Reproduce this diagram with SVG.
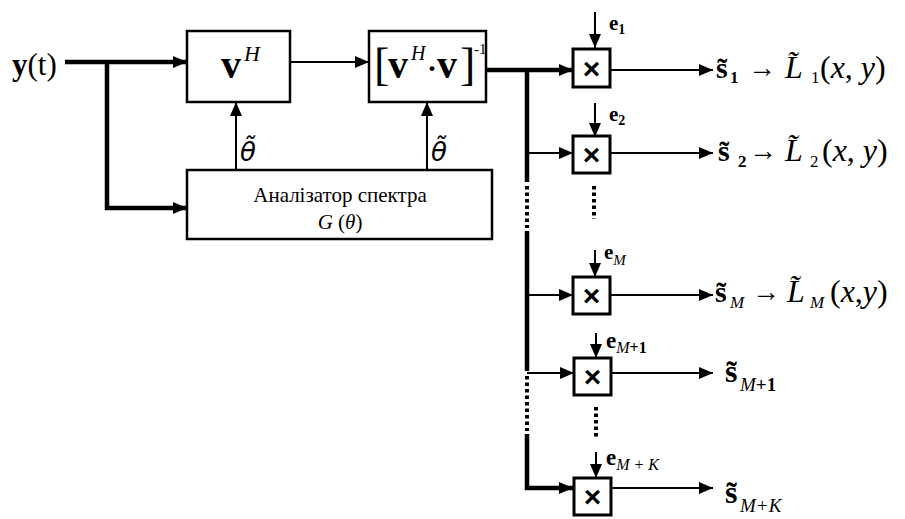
<svg xmlns="http://www.w3.org/2000/svg" width="905" height="519" viewBox="0 0 905 519">
<defs>
<marker id="ah" viewBox="0 0 14 12" refX="14" refY="6" markerWidth="14" markerHeight="12" markerUnits="userSpaceOnUse" orient="auto">
<path d="M0,0 L14,6 L0,12 Z" fill="#000"/>
</marker>
<style>
.box{fill:#fff;stroke:#000;stroke-width:2.5}
.mul{fill:#fff;stroke:#000;stroke-width:3}
.thick{fill:none;stroke:#000;stroke-width:4.5}
.thin{fill:none;stroke:#000;stroke-width:2}
.dots{fill:none;stroke:#000;stroke-width:4;stroke-dasharray:3.5,3}
text{fill:#000}
.x{font-family:'Liberation Sans','DejaVu Sans',sans-serif;font-weight:bold;font-size:30px}
.b{font-weight:bold}
.i{font-style:italic}
.dj{font-family:'DejaVu Sans',sans-serif}
</style>
</defs>
<rect width="905" height="519" fill="#fff"/>

<g id="connectors">
<path class="thick" d="M65,62 H187" marker-end="url(#ah)"/>
<path class="thick" d="M107,62 V208 H187" marker-end="url(#ah)"/>
<path class="thin" d="M290,62 H369" marker-end="url(#ah)"/>
<path class="thin" d="M236,170 V102" marker-end="url(#ah)"/>
<path class="thin" d="M427,170 V102" marker-end="url(#ah)"/>
<path class="thick" d="M486,70 H573" marker-end="url(#ah)"/>
<path class="thick" d="M527,70 V182"/>
<path class="dots" d="M527,186 V228"/>
<path class="thick" d="M527,231 V371"/>
<path class="dots" d="M527,376 V431"/>
<path class="thick" d="M527,434 V488 H573" marker-end="url(#ah)"/>
<path class="thin" d="M527,153 H573" marker-end="url(#ah)"/>
<path class="thin" d="M527,295 H573" marker-end="url(#ah)"/>
<path class="thin" d="M527,373 H574" marker-end="url(#ah)"/>
<path class="thin" d="M595,12 V48" marker-end="url(#ah)"/>
<path class="thin" d="M595,103 V137" marker-end="url(#ah)"/>
<path class="thin" d="M595,250 V277" marker-end="url(#ah)"/>
<path class="thin" d="M596,333 V358" marker-end="url(#ah)"/>
<path class="thin" d="M596,452 V478" marker-end="url(#ah)"/>
<path class="thin" d="M610,70 H713" marker-end="url(#ah)"/>
<path class="thin" d="M610,153 H713" marker-end="url(#ah)"/>
<path class="thin" d="M610,295 H713" marker-end="url(#ah)"/>
<path class="thin" d="M611,373 H713" marker-end="url(#ah)"/>
<path class="thin" d="M611,488 H713" marker-end="url(#ah)"/>
<path class="dots" d="M594,186 V219"/>
<path class="dots" d="M596,407 V438"/>
</g>

<g font-family="'Liberation Serif','DejaVu Serif',serif">

<g id="input">
<text x="12" y="75" font-size="31"><tspan class="b">y</tspan>(t)</text>
</g>

<g id="vh">
<rect class="box" x="187" y="31" width="103" height="71"/>
<text font-size="40"><tspan x="221" y="78" class="b">v</tspan><tspan x="244" y="61" font-size="22" class="i">H</tspan></text>
</g>

<g id="inv">
<rect class="box" x="369" y="31" width="117" height="71"/>
<text font-size="40"><tspan x="374" y="80" font-size="46">[</tspan><tspan x="388" y="78" class="b">v</tspan><tspan x="411" y="60" font-size="20" class="i">H</tspan><tspan x="427" y="78" font-size="30" class="b">·</tspan><tspan x="437" y="78" class="b">v</tspan><tspan x="460" y="80" font-size="46">]</tspan><tspan x="474" y="54" font-size="15">-1</tspan></text>
</g>

<g id="theta1">
<text x="240" y="161" font-size="26" class="i dj">θ̃</text>
</g>
<g id="theta2">
<text x="431" y="161" font-size="26" class="i dj">θ̃</text>
</g>

<g id="analyzer">
<rect class="box" x="187" y="170" width="305" height="69"/>
<text x="340" y="202" font-size="21" text-anchor="middle">Аналізатор спектра</text>
<text x="340" y="229" font-size="21" text-anchor="middle"><tspan class="i">G</tspan> (<tspan class="i">θ</tspan>)</text>
</g>

<g id="mul1">
<rect class="mul" x="573" y="49" width="37" height="38"/>
<text class="x" x="591.5" y="79" text-anchor="middle">×</text>
<text x="609" y="30" font-size="21" class="b">e<tspan font-size="14" dy="4">1</tspan></text>
</g>
<g id="mul2">
<rect class="mul" x="573" y="136" width="37" height="37"/>
<text class="x" x="591.5" y="165" text-anchor="middle">×</text>
<text x="609" y="121" font-size="21" class="b">e<tspan font-size="14" dy="4">2</tspan></text>
</g>
<g id="mulM">
<rect class="mul" x="573" y="277" width="37" height="37"/>
<text class="x" x="591.5" y="306" text-anchor="middle">×</text>
<text x="604" y="259" font-size="21" class="b">e<tspan font-size="15" class="i" font-weight="normal" dy="6">M</tspan></text>
</g>
<g id="mulM1">
<rect class="mul" x="574" y="358" width="37" height="37"/>
<text class="x" x="592.5" y="387" text-anchor="middle">×</text>
<text x="606" y="348" font-size="23" class="b">e<tspan font-size="16" class="i" font-weight="normal" dy="5">M</tspan><tspan font-size="16">+1</tspan></text>
</g>
<g id="mulMK">
<rect class="mul" x="574" y="478" width="37" height="37"/>
<text class="x" x="592.5" y="507" text-anchor="middle">×</text>
<text x="606" y="465" font-size="23" class="b">e<tspan font-size="16" class="i" font-weight="normal" dy="5">M + K</tspan></text>
</g>

<g id="out1">
<text font-size="32"><tspan x="716" y="78" font-size="30" class="b">s̃</tspan><tspan x="730" y="83" font-size="17" class="b">1</tspan><tspan x="748" y="77" font-size="28">→</tspan><tspan x="785" y="78" class="i">L̃</tspan><tspan x="811" y="83" font-size="17">1</tspan><tspan x="820" y="78">(</tspan><tspan class="i">x</tspan><tspan>, </tspan><tspan class="i">y</tspan><tspan>)</tspan></text>
</g>
<g id="out2">
<text font-size="32"><tspan x="718" y="161" font-size="30" class="b">s̃</tspan><tspan x="738" y="167" font-size="17" class="b">2</tspan><tspan x="749" y="160" font-size="28">→</tspan><tspan x="785" y="161" class="i">L̃</tspan><tspan x="810" y="167" font-size="17">2</tspan><tspan x="822" y="161">(</tspan><tspan class="i">x</tspan><tspan>, </tspan><tspan class="i">y</tspan><tspan>)</tspan></text>
</g>
<g id="outM">
<text font-size="32"><tspan x="715" y="302" font-size="30" class="b">s̃</tspan><tspan x="730" y="308" font-size="17" class="i">M</tspan><tspan x="752" y="301" font-size="28">→</tspan><tspan x="787" y="302" class="i">L̃</tspan><tspan x="810" y="308" font-size="17" class="i">M</tspan><tspan x="830" y="302">(</tspan><tspan class="i">x</tspan><tspan>,</tspan><tspan class="i">y</tspan><tspan>)</tspan></text>
</g>
<g id="outM1">
<text font-size="32"><tspan x="725" y="382" class="b">s̃</tspan><tspan x="740" y="391" font-size="19" class="i">M</tspan><tspan font-size="19" class="b">+1</tspan></text>
</g>
<g id="outMK">
<text font-size="32"><tspan x="725" y="503" class="b">s̃</tspan><tspan x="740" y="512" font-size="19" class="i">M+K</tspan></text>
</g>
</g>
</svg>
